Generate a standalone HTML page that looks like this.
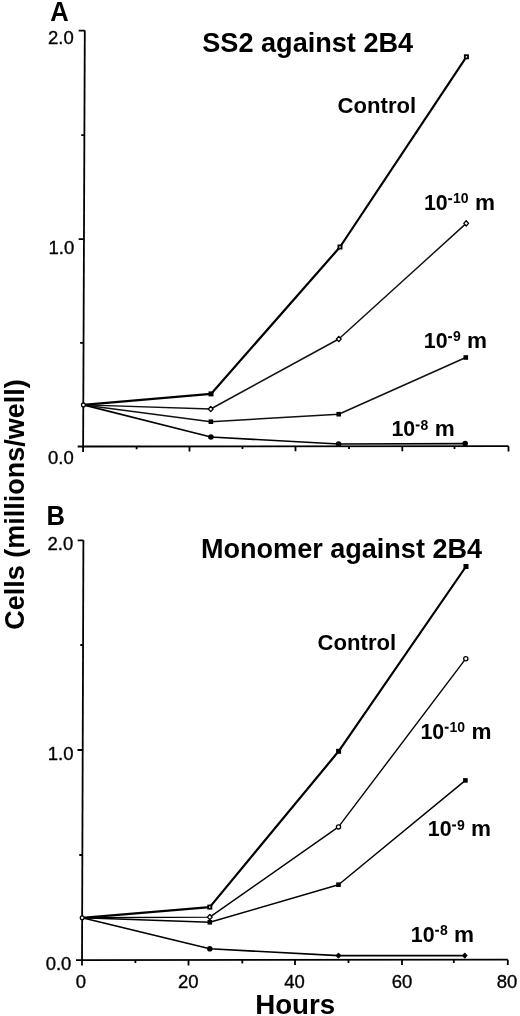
<!DOCTYPE html>
<html><head><meta charset="utf-8"><style>
html,body{margin:0;padding:0;background:#fff;width:520px;height:1016px;overflow:hidden}
svg{display:block;filter:blur(0.35px)}
text{font-family:"Liberation Sans",sans-serif;fill:#000}
.b{font-weight:bold}
.r{stroke:#000;stroke-width:0.35px}
</style></head><body>
<svg width="520" height="1016" viewBox="0 0 520 1016">
<!-- Panel letters -->
<text class="b" transform="translate(50.3,20.5) scale(0.93,1)" font-size="27.5">A</text>
<text class="b" transform="translate(46.5,524.6) scale(0.93,1)" font-size="27.5">B</text>
<!-- Titles -->
<text class="b" x="202.3" y="51.9" font-size="27.1">SS2 against 2B4</text>
<text class="b" x="201" y="557.6" font-size="27.05">Monomer against 2B4</text>
<!-- Y label -->
<text class="b" font-size="27" transform="translate(24,504.5) rotate(-90)" text-anchor="middle">Cells (millions/well)</text>
<!-- X label -->
<text class="b" x="255.2" y="1014.2" font-size="27.7">Hours</text>

<!-- ===== Panel A axes ===== -->
<g stroke="#000" stroke-width="1.8" fill="none">
  <path d="M84.8 30.6 L83.1 452"/>
  <path d="M77.7 446.5 L508.5 446.2"/>
  <!-- y ticks -->
  <path d="M78.7 30.6H84.8 M81.2 135.2H84.4 M78.7 239.2H84 M80.1 342.9H83.6"/>
  <!-- x ticks -->
  <path d="M136.6 446.4V449.2 M189.5 446.4V451.6 M242.5 446.4V449.1 M295.5 446.3V451.3 M349 446.3V449 M402.3 446.3V451.3 M454.5 446.2V448.9 M508.5 446.2V451.6"/>
</g>
<text class="r" x="48" y="44" font-size="18.5">2.0</text>
<text class="r" x="48.5" y="253.7" font-size="18.5">1.0</text>
<text class="r" x="48" y="463.6" font-size="18.5">0.0</text>

<!-- ===== Panel B axes ===== -->
<g stroke="#000" stroke-width="1.8" fill="none">
  <path d="M83.4 540.3 L82 965.4"/>
  <path d="M76 960.1 L507.8 959.7"/>
  <path d="M77.7 540.3H83.4 M80.3 645H83 M77.5 750H82.8 M79.3 855H82.4"/>
  <path d="M135.4 960V963 M188.5 960V965.4 M242.3 960V963.5 M295 959.9V965 M348.5 959.9V963 M402 959.8V965 M453.8 959.7V962.9 M507.8 959.7V965"/>
</g>
<text class="r" x="47.5" y="550" font-size="18.5">2.0</text>
<text class="r" x="47.8" y="759.9" font-size="18.5">1.0</text>
<text class="r" x="45.7" y="970" font-size="18.5">0.0</text>
<g class="r" font-size="18.5" text-anchor="middle">
<text x="81" y="987.9">0</text>
<text x="188.3" y="987.5">20</text>
<text x="294.5" y="987.5">40</text>
<text x="402" y="987.7">60</text>
<text x="507" y="987.7">80</text>
</g>

<polyline fill="none" stroke="#111" stroke-width="1.5" stroke-linejoin="round" points="83.4,404.9 210.9,421.7 338.7,414.2 465.8,357.5"/>
<polyline fill="none" stroke="#111" stroke-width="1.45" stroke-linejoin="round" points="83.4,404.9 210.7,409.0 338.8,339.0 466.2,223.4"/>
<polyline fill="none" stroke="#000" stroke-width="1.65" stroke-linejoin="round" points="83.4,404.9 210.9,437.0 338.6,444.0 465.2,443.6"/>
<polyline fill="none" stroke="#000" stroke-width="2.2" stroke-linejoin="round" points="83.4,404.9 211.0,393.9 340.0,247.0 466.4,56.8"/>
<rect x="208.60" y="419.40" width="4.6" height="4.6" fill="#000"/>
<rect x="336.40" y="411.90" width="4.6" height="4.6" fill="#000"/>
<rect x="463.50" y="355.20" width="4.6" height="4.6" fill="#000"/>
<path d="M210.70 406.40L213.10 409.00L210.70 411.60L208.30 409.00Z" fill="#fff" stroke="#000" stroke-width="1.3" stroke-linejoin="round"/>
<path d="M338.80 336.40L341.20 339.00L338.80 341.60L336.40 339.00Z" fill="#fff" stroke="#000" stroke-width="1.3" stroke-linejoin="round"/>
<path d="M466.20 220.80L468.60 223.40L466.20 226.00L463.80 223.40Z" fill="#fff" stroke="#000" stroke-width="1.3" stroke-linejoin="round"/>
<circle cx="210.90" cy="437.00" r="2.8" fill="#000"/>
<circle cx="338.60" cy="444.00" r="2.8" fill="#000"/>
<circle cx="465.20" cy="443.60" r="2.8" fill="#000"/>
<rect x="208.50" y="391.40" width="5" height="5" fill="#000"/>
<rect x="337.50" y="244.50" width="5" height="5" fill="#000"/><rect x="339.30" y="246.30" width="1.4" height="1.4" fill="#fff"/>
<rect x="463.90" y="54.30" width="5" height="5" fill="#000"/><rect x="465.70" y="56.10" width="1.4" height="1.4" fill="#fff"/>
<polyline fill="none" stroke="#000" stroke-width="1.45" stroke-linejoin="round" points="82.2,917.8 209.8,922.3 338.5,884.7 465.4,780.4"/>
<polyline fill="none" stroke="#000" stroke-width="1.4" stroke-linejoin="round" points="82.2,917.8 209.8,917.1 338.5,826.9 465.8,658.7"/>
<polyline fill="none" stroke="#000" stroke-width="1.65" stroke-linejoin="round" points="82.2,917.8 209.8,948.8 338.5,955.6 464.8,955.6"/>
<polyline fill="none" stroke="#000" stroke-width="2.2" stroke-linejoin="round" points="82.2,917.8 209.8,907.1 338.6,751.3 466.0,566.5"/>
<rect x="207.50" y="920.00" width="4.6" height="4.6" fill="#000"/>
<rect x="336.20" y="882.40" width="4.6" height="4.6" fill="#000"/>
<rect x="463.10" y="778.10" width="4.6" height="4.6" fill="#000"/>
<path d="M209.80 914.50L212.20 917.10L209.80 919.70L207.40 917.10Z" fill="#fff" stroke="#000" stroke-width="1.3" stroke-linejoin="round"/>
<circle cx="338.50" cy="826.90" r="2.1" fill="#fff" stroke="#000" stroke-width="1.3"/>
<circle cx="465.80" cy="658.70" r="2.1" fill="#fff" stroke="#000" stroke-width="1.3"/>
<circle cx="209.80" cy="948.80" r="2.8" fill="#000"/>
<path d="M338.50 952.90L340.90 955.60L338.50 958.30L336.10 955.60Z" fill="#000" stroke="#000" stroke-width="0.9" stroke-linejoin="round"/>
<path d="M464.80 952.90L467.20 955.60L464.80 958.30L462.40 955.60Z" fill="#000" stroke="#000" stroke-width="0.9" stroke-linejoin="round"/>
<rect x="207.30" y="904.60" width="5" height="5" fill="#000"/><rect x="209.10" y="906.40" width="1.4" height="1.4" fill="#fff"/>
<rect x="336.10" y="748.80" width="5" height="5" fill="#000"/>
<rect x="463.50" y="564.00" width="5" height="5" fill="#000"/>
<circle cx="83.4" cy="404.9" r="1.9" fill="#fff" stroke="#000" stroke-width="1.3"/>
<circle cx="82.2" cy="917.8" r="1.9" fill="#fff" stroke="#000" stroke-width="1.3"/>
<!-- Control labels -->
<text class="b" x="337.6" y="112.6" font-size="22.1">Control</text>
<text class="b" x="317.6" y="650.4" font-size="22.1">Control</text>
<text class="b" x="423.92" y="209.90" font-size="21.4">10</text>
<rect x="448.20" y="198.15" width="3.9" height="2" fill="#000"/>
<text class="b" x="453.00" y="203.30" font-size="14.0">10</text>
<text class="b" x="474.97" y="209.90" font-size="22.5">m</text>
<text class="b" x="423.82" y="347.90" font-size="21.4">10</text>
<rect x="448.10" y="336.15" width="3.9" height="2" fill="#000"/>
<text class="b" x="452.90" y="341.30" font-size="14.0">9</text>
<text class="b" x="467.08" y="347.90" font-size="22.5">m</text>
<text class="b" x="391.42" y="436.20" font-size="21.4">10</text>
<rect x="415.70" y="424.45" width="3.9" height="2" fill="#000"/>
<text class="b" x="420.50" y="429.60" font-size="14.0">8</text>
<text class="b" x="434.68" y="436.20" font-size="22.5">m</text>
<text class="b" x="420.42" y="738.50" font-size="21.4">10</text>
<rect x="444.70" y="726.75" width="3.9" height="2" fill="#000"/>
<text class="b" x="449.50" y="731.90" font-size="14.0">10</text>
<text class="b" x="471.47" y="738.50" font-size="22.5">m</text>
<text class="b" x="427.82" y="836.20" font-size="21.4">10</text>
<rect x="452.10" y="824.45" width="3.9" height="2" fill="#000"/>
<text class="b" x="456.90" y="829.60" font-size="14.0">9</text>
<text class="b" x="471.08" y="836.20" font-size="22.5">m</text>
<text class="b" x="410.82" y="941.50" font-size="21.4">10</text>
<rect x="435.10" y="929.75" width="3.9" height="2" fill="#000"/>
<text class="b" x="439.90" y="934.90" font-size="14.0">8</text>
<text class="b" x="454.08" y="941.50" font-size="22.5">m</text>
</svg>
</body></html>
